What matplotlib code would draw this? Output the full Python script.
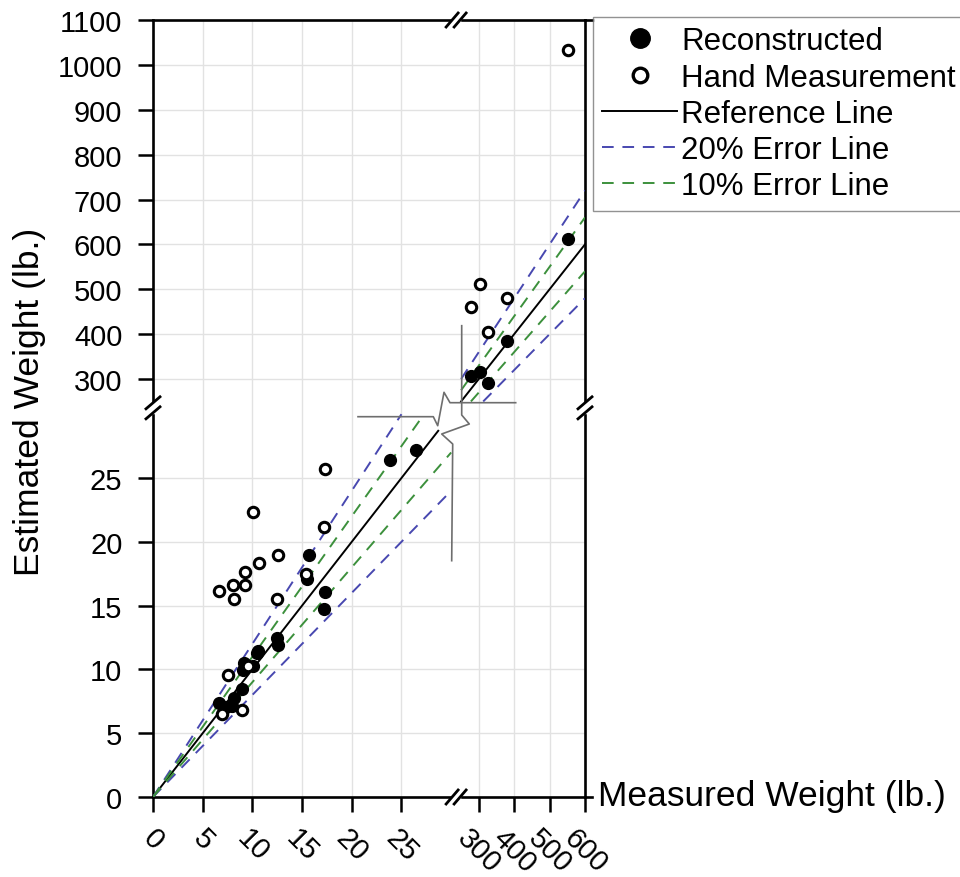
import numpy as np
import matplotlib
matplotlib.use("Agg")
import matplotlib.pyplot as plt
from matplotlib.lines import Line2D
from matplotlib.patches import Rectangle
from matplotlib.transforms import IdentityTransform

plt.rcParams['font.family'] = ['Liberation Sans', 'DejaVu Sans']

# ---------------- data ----------------
recon_measured = [6.65, 7.35, 7.92, 8.16, 8.93, 9.09, 9.16, 10.1, 10.44, 10.57,
                  12.52, 12.56, 15.48, 15.71, 17.25, 17.35, 23.8, 26.49,
                  276.9, 303.2, 326.6, 380.4, 551.2]
recon_estimated = [7.35, 7.03, 7.16, 7.74, 8.47, 9.98, 10.51, 10.3, 11.27, 11.42,
                   12.47, 11.92, 17.05, 19.0, 14.72, 16.05, 26.38, 27.16,
                   306.1, 316.4, 291.2, 385.4, 611.9]
hand_measured = [6.68, 8.09, 8.19, 9.23, 9.26, 10.64, 12.59, 12.52, 15.44, 7.58,
                 9.6, 8.99, 6.98, 17.35, 10.1, 17.25,
                 276.9, 303.2, 326.6, 380.4, 552.9]
hand_estimated = [16.13, 16.65, 15.53, 16.65, 17.62, 18.35, 19.0, 15.53, 17.47, 9.59,
                  10.3, 6.8, 6.51, 25.67, 22.33, 21.15,
                  459.8, 511.7, 404.1, 479.8, 1033.0]
x_ticks = [0, 5, 10, 15, 20, 25, 300, 400, 500, 600]
y_ticks = [0, 5, 10, 15, 20, 25, 300, 400, 500, 600, 700, 800, 900, 1000, 1100]
error_levels = [0.2, 0.1]
error_labels = ['20% Error Line', '10% Error Line']
error_colors = ['#4848b0', '#3c903c']

# ---------------- broken scales ----------------
LOW_END, HIGH_START, GAP = 30.0, 250.0, 1.0
X_UPPER_K, Y_UPPER_K = 0.03562, 0.03517


def make_scale(k):
    big = 1e5
    xp = np.array([-big, LOW_END, HIGH_START, big])
    fp = np.array([-big, LOW_END, LOW_END + GAP, LOW_END + GAP + (big - HIGH_START) * k])
    return (lambda v: np.interp(v, xp, fp)), (lambda v: np.interp(v, fp, xp))


W, H = 960, 878
fig = plt.figure(figsize=(W / 100, H / 100), dpi=100)
ax = fig.add_axes([153 / W, 1 - 798 / H, 432 / W, 777 / H])
ax.set_xscale('function', functions=make_scale(X_UPPER_K))
ax.set_yscale('function', functions=make_scale(Y_UPPER_K))
ax.set_xlim(0, 600)
ax.set_ylim(0, 1100)

ax.set_xticks(x_ticks)
ax.set_xticklabels([str(t) for t in x_ticks], rotation=-45, ha='center', va='top')
ax.set_yticks(y_ticks)
ax.set_yticklabels([str(t) for t in y_ticks])
ax.minorticks_off()
ax.tick_params(axis='both', direction='out', length=11, width=1.8, labelsize=21,
               color='black')
ax.tick_params(axis='x', pad=8)
ax.tick_params(axis='y', pad=11)
ax.grid(True, color='#e2e2e2', lw=1.0)
ax.set_axisbelow(True)
for s in ax.spines.values():
    s.set_linewidth(1.9)
    s.set_color('black')

DASH = (0, (6, 4.5))
LW = 1.4

# ---------------- lines ----------------
REF_LOWER_END = 28.7
factors = [1.0] + [1 + e for e in error_levels] + [1 - e for e in error_levels]
for f in factors:
    if f == 1.0:
        style = dict(color='black', lw=LW, ls='-')
        lo_end = REF_LOWER_END
    else:
        i = [abs(f - 1 - e) < 1e-9 or abs(f - 1 + e) < 1e-9 for e in error_levels].index(True)
        style = dict(color=error_colors[i], lw=LW, ls=DASH)
        lo_end = min(LOW_END, LOW_END / f)
    xl = np.linspace(0, lo_end, 50)
    ax.plot(xl, f * xl, zorder=3, **style)
    xu = np.linspace(max(HIGH_START, HIGH_START / f), 600, 50)
    ax.plot(xu, f * xu, zorder=3, **style)

ax.plot(recon_measured, recon_estimated, 'o', color='black', ms=8.5, zorder=4, clip_on=False)
ax.plot(hand_measured, hand_estimated, 'o', mfc='white', mec='black', mew=2.2, ms=7.5,
        zorder=5, clip_on=False)

# ---------------- break marks & callout ----------------
fig.canvas.draw()
ident = IdentityTransform()
xb = 0.5 * (LOW_END + HIGH_START)
bx, _ = ax.transData.transform((xb, 0))
_, by = ax.transData.transform((0, xb))
x0, y0 = ax.transAxes.transform((0, 0))
x1, y1 = ax.transAxes.transform((1, 1))


def brk(cx, cy, vertical):
    if vertical:
        fig.add_artist(Rectangle((cx - 4, cy - 5), 8, 10, color='white', transform=ident, zorder=10))
        for c in (cy - 5, cy + 5):
            fig.add_artist(Line2D([cx - 7, cx + 7], [c - 6, c + 6], color='black', lw=2.0,
                                  transform=ident, zorder=11))
    else:
        fig.add_artist(Rectangle((cx - 4, cy - 4), 8, 8, color='white', transform=ident, zorder=10))
        for c in (cx - 4, cx + 4):
            fig.add_artist(Line2D([c - 6, c + 6], [cy - 7, cy + 7], color='black', lw=2.0,
                                  transform=ident, zorder=11))


brk(bx, y0, False)
brk(bx, y1, False)
brk(x0, by, True)
brk(x1, by, True)

# extended spine segments to the right
fig.add_artist(Line2D([x1, x1 + 7], [y0, y0], color='black', lw=1.9, transform=ident))
fig.add_artist(Line2D([x1, x1 + 8], [y1, y1], color='black', lw=1.9, transform=ident))


def pg(pts):
    return [p[0] / W for p in pts], [1 - p[1] / H for p in pts]


callout1 = [(358, 417.7), (433.3, 417.7), (437.7, 426.7), (444, 393.3), (450, 403.7), (515.7, 403.7)]
callout2 = [(461.7, 326.7), (461.7, 416), (469.3, 425), (441.7, 435), (452.7, 445), (451.7, 561.7)]
for poly in (callout1, callout2):
    xs, ys = pg(poly)
    fig.add_artist(Line2D(xs, ys, color='#6e6e6e', lw=1.2, transform=fig.transFigure, zorder=6))

# ---------------- labels ----------------
fig.text(598 / W, 1 - 797 / H, 'Measured Weight (lb.)', ha='left', va='center', fontsize=25.5)
fig.text(30 / W, 1 - 402 / H, 'Estimated Weight (lb.)', rotation=90, ha='center',
         va='center', fontsize=25.5)

# ---------------- legend ----------------
handles = [
    Line2D([], [], ls='none', marker='o', color='black', ms=10),
    Line2D([], [], ls='none', marker='o', mfc='white', mec='black', mew=2.4, ms=7.5),
    Line2D([], [], color='black', lw=LW),
    Line2D([], [], color=error_colors[0], lw=LW, ls=DASH),
    Line2D([], [], color=error_colors[1], lw=LW, ls=DASH),
]
labels = ['Reconstructed', 'Hand Measurement', 'Reference Line'] + error_labels
leg = fig.legend(handles, labels, loc='upper left', bbox_to_anchor=(593 / W, 1 - 18 / H),
                 bbox_transform=fig.transFigure, fontsize=22.5, handlelength=2.4,
                 handletextpad=0.12, borderpad=0.3, labelspacing=0.2, frameon=True,
                 fancybox=False, edgecolor='#777777', markerscale=1.4, borderaxespad=0)
leg.get_frame().set_linewidth(1.0)

fig.savefig('out.png', dpi=100)
